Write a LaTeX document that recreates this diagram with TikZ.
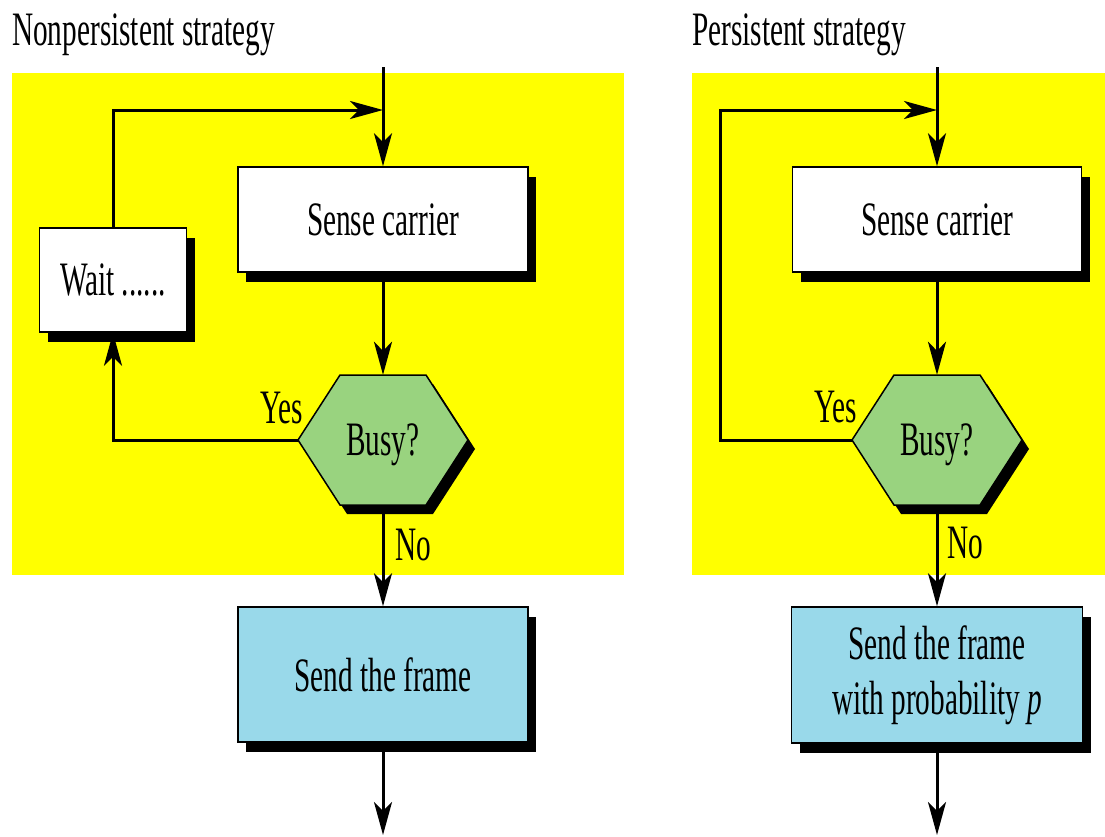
\documentclass[tikz,border=0pt]{standalone}
\usepackage{fontspec}
\setmainfont{Liberation Serif}[FakeStretch=0.61]
\usetikzlibrary{arrows.meta,shadows}
\definecolor{panelyellow}{RGB}{255,255,0}
\definecolor{busygreen}{RGB}{153,211,127}
\definecolor{sendblue}{RGB}{153,217,234}

\tikzset{
  label font/.style={font=\fontsize{48}{55}\selectfont},
  shadowed/.style={drop shadow={shadow xshift=8pt,shadow yshift=-10pt,fill=black,opacity=1}},
  stepbox/.style={label font,draw=black,line width=1.5pt,inner sep=0pt,align=center,shadowed},
  decision/.style={label font,inner sep=0pt,minimum width=170pt,minimum height=130pt,text depth=0pt},
  flow/.style={line width=3pt,-{Stealth[length=33pt,width=18pt,inset=9pt]}},
  hexagon/.pic={
    \fill[black,shift={(7,9)}] (-85,0)--(-43,-65)--(43,-65)--(85,0)--(43,65)--(-43,65)--cycle;
    \filldraw[fill=busygreen,draw=black,line width=1.5pt]
      (-85,0)--(-43,-65)--(43,-65)--(85,0)--(43,65)--(-43,65)--cycle;
  }
}

\begin{document}
\begin{tikzpicture}[x=1pt,y=-1pt]
  \useasboundingbox (0,0) rectangle (1105,836);
  \fill[white] (0,0) rectangle (1105,836);

  % yellow panels
  \fill[panelyellow] (12,73) rectangle (624,575);
  \fill[panelyellow] (692,73) rectangle (1105,575);

  % titles
  \node[label font,anchor=base west,inner sep=0pt] (titleL) at (12,45) {Nonpersistent strategy};
  \node[label font,anchor=base west,inner sep=0pt] (titleR) at (692,45) {Persistent strategy};

  % ---------- nonpersistent ----------
  \coordinate (inL) at (383,67);
  \coordinate (jL) at (383,110);
  \coordinate (outL) at (383,835);
  \node[stepbox,fill=white,minimum width=290pt,minimum height=105pt] (senseL) at (383,219.5) {Sense carrier};
  \node[stepbox,fill=white,minimum width=147pt,minimum height=104pt] (waitL) at (113,280) {Wait ......};
  \pic at (383,440) {hexagon};
  \node[decision] (busyL) at (383,440) {Busy?};
  \node[stepbox,fill=sendblue,minimum width=290pt,minimum height=135pt] (sendL) at (383,674.5) {Send the frame};

  \draw[flow] (inL) -- (senseL.north);
  \draw[flow] (waitL.north) |- (jL);
  \draw[flow] (senseL.south) -- (busyL.north);
  \draw[flow] (busyL.west) -| (waitL.south);
  \draw[flow] (busyL.south) -- (sendL.north);
  \draw[flow] (sendL.south) -- (outL);
  \node[label font,anchor=base east,inner sep=0pt] (yesL) at (303,423) {Yes};
  \node[label font,anchor=base west,inner sep=0pt] (noL) at (395,560) {No};

  % ---------- persistent ----------
  \coordinate (inR) at (937,67);
  \coordinate (jR) at (937,110);
  \coordinate (cR) at (720,110);
  \coordinate (outR) at (937,835);
  \node[stepbox,fill=white,minimum width=289pt,minimum height=105pt] (senseR) at (937,219.5) {Sense carrier};
  \pic at (937,440) {hexagon};
  \node[decision] (busyR) at (937,440) {Busy?};
  \node[stepbox,fill=sendblue,minimum width=291pt,minimum height=136pt] (sendR) at (937,675)
    {Send the frame\\with probability \textit{p}};

  \draw[flow] (inR) -- (senseR.north);
  \draw[flow] (busyR.west) -| (cR) -- (jR);
  \draw[flow] (senseR.south) -- (busyR.north);
  \draw[flow] (busyR.south) -- (sendR.north);
  \draw[flow] (sendR.south) -- (outR);
  \node[label font,anchor=base east,inner sep=0pt] (yesR) at (857,422) {Yes};
  \node[label font,anchor=base west,inner sep=0pt] (noR) at (947,558) {No};
\end{tikzpicture}
\end{document}
